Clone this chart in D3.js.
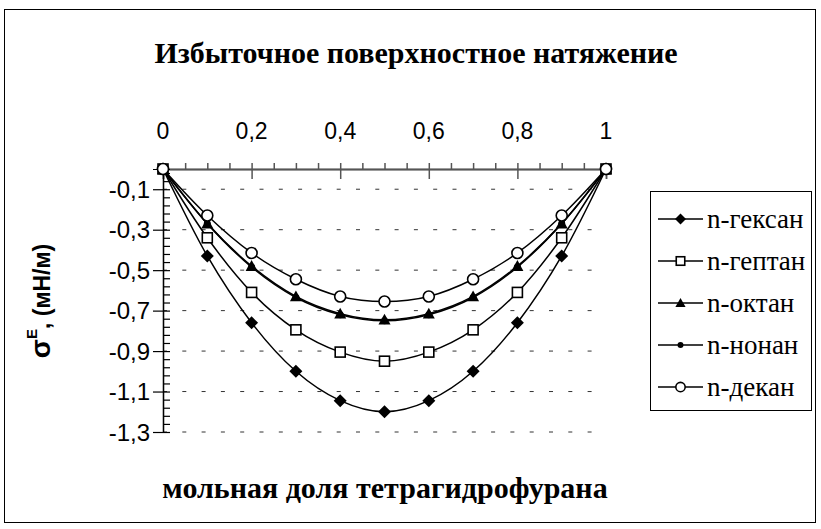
<!DOCTYPE html>
<html><head><meta charset="utf-8">
<script src="https://cdn.jsdelivr.net/npm/d3@7"></script>
<style>body{margin:0;background:#fff}svg{display:block}</style>
</head><body>
<svg id="c" width="821" height="529"></svg>
<script>
const xValues = [0, 0.1, 0.2, 0.3, 0.4, 0.5, 0.6, 0.7, 0.8, 0.9, 1];
const hexane  = [0, -0.43, -0.76, -1.0, -1.145, -1.2, -1.145, -1.0, -0.76, -0.43, 0];
const heptane = [0, -0.34, -0.61, -0.795, -0.905, -0.95, -0.905, -0.795, -0.61, -0.34, 0];
const octane  = [0, -0.27, -0.48, -0.63, -0.715, -0.745, -0.715, -0.63, -0.48, -0.27, 0];
const nonane  = [0, -0.27, -0.485, -0.635, -0.72, -0.75, -0.72, -0.635, -0.485, -0.27, 0];
const decane  = [0, -0.23, -0.415, -0.545, -0.63, -0.655, -0.63, -0.545, -0.415, -0.23, 0];
const seriesNames = ["n-гексан", "n-гептан", "n-октан", "n-нонан", "n-декан"];
const markerKinds = ["diamond", "square", "triangle", "dot", "circle"];
const xTickValues = [0, 0.2, 0.4, 0.6, 0.8, 1];
const yTickValues = [-0.1, -0.3, -0.5, -0.7, -0.9, -1.1, -1.3];
const title = "Избыточное поверхностное натяжение";
const xTitle = "мольная доля тетрагидрофурана";

const svg = d3.select("#c");
const x = d3.scaleLinear().domain([0, 1]).range([163, 606]);
const y = d3.scaleLinear().domain([-1.3, 0]).range([432, 169]);
const fmt = d => String(+d.toFixed(2)).replace(".", ",");

// outer frame
svg.append("rect").attr("x", 4.5).attr("y", 9.5).attr("width", 811).attr("height", 513)
  .attr("fill", "none").attr("stroke", "#000").attr("stroke-width", 1);

// title
svg.append("text").attr("x", 416).attr("y", 63).attr("text-anchor", "middle")
  .attr("font-family", "Liberation Serif").attr("font-weight", "bold").attr("font-size", 30)
  .text(title);

// gridlines
svg.append("g").selectAll("line").data(yTickValues).join("line")
  .attr("x1", x(0)).attr("x2", x(1)).attr("y1", d => y(d)).attr("y2", d => y(d))
  .attr("stroke", "#333").attr("stroke-width", 1).attr("stroke-dasharray", "4 15.3");

// x axis (top)
const xMinor = d3.range(0, 21).map(i => i * 0.05).filter(v => !xTickValues.some(t => Math.abs(t - v) < 1e-9));
const gx = svg.append("g").attr("transform", `translate(0,${y(0)})`);
gx.call(d3.axisTop(x).tickValues(xMinor).tickSize(6).tickFormat(""));
gx.call(g => g.append("g").call(d3.axisBottom(x).tickValues(xTickValues).tickSize(10).tickFormat("")));
gx.call(g => g.append("g").call(d3.axisTop(x).tickValues(xTickValues).tickSize(6).tickFormat("")));
gx.selectAll("path.domain").attr("stroke", "#555").attr("stroke-width", 1.5);
gx.selectAll("line").attr("stroke", "#555").attr("stroke-width", 1.5);
svg.append("g").selectAll("text").data(xTickValues).join("text")
  .attr("x", d => x(d)).attr("y", 139).attr("text-anchor", "middle")
  .attr("font-family", "Liberation Sans").attr("font-size", 23).text(fmt);

// y axis
const yMinor = d3.range(0, 33).map(i => -1.3 + i * 0.04).filter(v => v < -0.001 && !yTickValues.some(t => Math.abs(t - v) < 1e-9));
const gy = svg.append("g").attr("transform", `translate(${x(0)},0)`);
gy.call(d3.axisRight(y).tickValues(yMinor).tickSize(7).tickFormat(""));
gy.call(g => g.append("g").call(d3.axisLeft(y).tickValues(yTickValues).tickSize(10).tickFormat("")));
gy.call(g => g.append("g").call(d3.axisRight(y).tickValues(yTickValues).tickSize(7).tickFormat("")));
gy.selectAll("path.domain").attr("stroke", "#000").attr("stroke-width", 1.2);
gy.selectAll("line").attr("stroke", "#000").attr("stroke-width", 1.2);
svg.append("g").selectAll("text").data(yTickValues).join("text")
  .attr("x", 150).attr("y", d => y(d)).attr("dy", "0.36em").attr("text-anchor", "end")
  .attr("font-family", "Liberation Sans").attr("font-size", 24).text(fmt);

// y title
const yt = svg.append("text").attr("transform", "translate(50,301) rotate(-90)")
  .attr("text-anchor", "middle").attr("font-family", "Liberation Sans").attr("font-weight", "bold").attr("font-size", 23);
yt.append("tspan").attr("font-size", 28).text("σ");
yt.append("tspan").attr("font-size", 15).attr("dy", -13).text("E");
yt.append("tspan").attr("dy", 13).text(", (мН/м)");

// x title
svg.append("text").attr("x", 385).attr("y", 498).attr("text-anchor", "middle")
  .attr("font-family", "Liberation Serif").attr("font-weight", "bold").attr("font-size", 30)
  .text(xTitle);

// series
const allSeries = [hexane, heptane, octane, nonane, decane];
const line = d3.line().x((d, i) => x(xValues[i])).y(d => y(d)).curve(d3.curveCatmullRom.alpha(0));
function drawMarker(g, kind, cx, cy, scale) {
  const s = scale || 1;
  if (kind === "diamond") {
    const r = 6.5 * s;
    g.append("path").attr("d", `M${cx},${cy - r}L${cx + r},${cy}L${cx},${cy + r}L${cx - r},${cy}Z`).attr("fill", "#000");
  } else if (kind === "square") {
    const r = 5 * s;
    g.append("rect").attr("x", cx - r).attr("y", cy - r).attr("width", 2 * r).attr("height", 2 * r)
      .attr("fill", "#fff").attr("stroke", "#000").attr("stroke-width", 1.6);
  } else if (kind === "triangle") {
    const r = 6 * s;
    g.append("path").attr("d", `M${cx},${cy - r}L${cx + r},${cy + r * 0.8}L${cx - r},${cy + r * 0.8}Z`).attr("fill", "#000");
  } else if (kind === "dot") {
    g.append("circle").attr("cx", cx).attr("cy", cy).attr("r", 3.5 * s).attr("fill", "#000");
  } else {
    g.append("circle").attr("cx", cx).attr("cy", cy).attr("r", 5.5 * s)
      .attr("fill", "#fff").attr("stroke", "#000").attr("stroke-width", 1.6);
  }
}
allSeries.forEach((vals, si) => {
  const g = svg.append("g");
  g.append("path").attr("d", line(vals)).attr("fill", "none").attr("stroke", "#000").attr("stroke-width", 1.5);
  vals.forEach((v, i) => drawMarker(g, markerKinds[si], x(xValues[i]), y(v)));
});

// legend
const lg = svg.append("g");
lg.append("rect").attr("x", 650.5).attr("y", 191.5).attr("width", 161).attr("height", 219)
  .attr("fill", "#fff").attr("stroke", "#000").attr("stroke-width", 1);
seriesNames.forEach((name, i) => {
  const cy = 219 + i * 42;
  lg.append("line").attr("x1", 658).attr("x2", 703).attr("y1", cy).attr("y2", cy).attr("stroke", "#000").attr("stroke-width", 1.5);
  drawMarker(lg, markerKinds[i], 680.5, cy, 0.85);
  lg.append("text").attr("x", 707).attr("y", cy).attr("dy", "0.32em")
    .attr("font-family", "Liberation Serif").attr("font-size", 27).text(name);
});
</script>
</body></html>
